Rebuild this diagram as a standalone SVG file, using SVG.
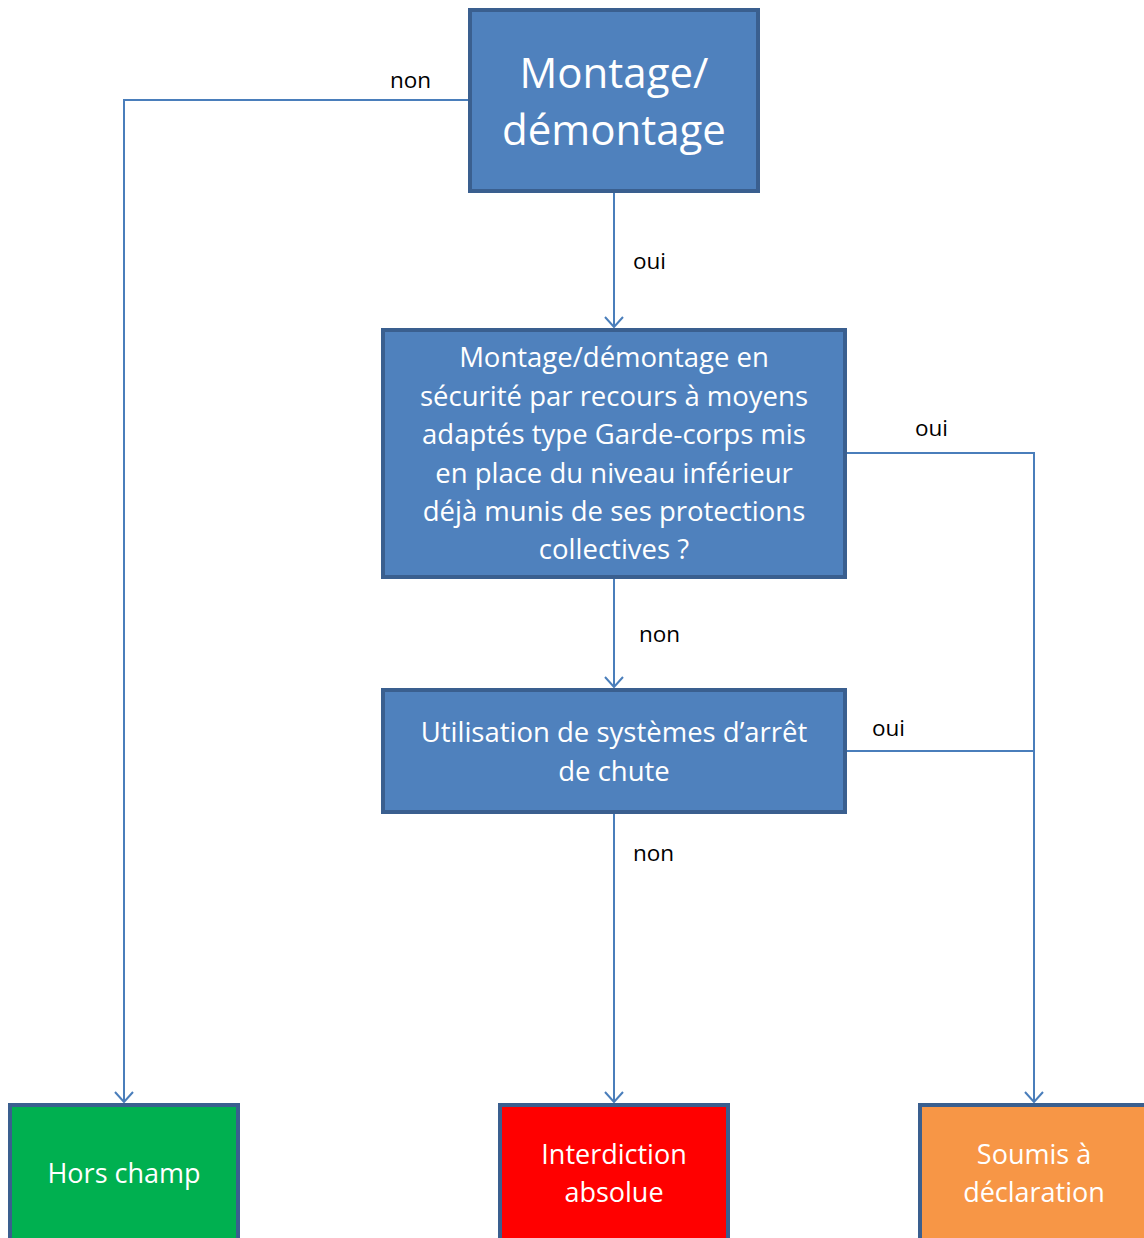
<svg xmlns="http://www.w3.org/2000/svg" width="1144" height="1238" viewBox="0 0 1144 1238">
<style>
.box{stroke:#3a5f8f;stroke-width:4}
.blue{fill:#4f81bd}
.t{font-family:"Open Sans","Liberation Sans",sans-serif;fill:#fff;text-anchor:middle}
.lbl{font-family:"Open Sans","Liberation Sans",sans-serif;fill:#000;font-size:22.5px}
.c{fill:none;stroke:#4a7ebb;stroke-width:2}
</style>
<defs>
<marker id="arr" markerWidth="24" markerHeight="24" viewBox="-12 -12 24 24" refX="0" refY="0" orient="auto" markerUnits="userSpaceOnUse">
<path d="M-10,-9 L0,0 L-10,9" fill="none" stroke="#4a7ebb" stroke-width="2"/>
</marker>
</defs>
<rect width="1144" height="1238" fill="#fff"/>
<g id="connectors">
<path class="c" d="M470,100 H124 V1102" marker-end="url(#arr)"/>
<path class="c" d="M614,191 V327" marker-end="url(#arr)"/>
<path class="c" d="M845,453 H1034 V1102" marker-end="url(#arr)"/>
<path class="c" d="M614,577 V687" marker-end="url(#arr)"/>
<path class="c" d="M845,751 H1034"/>
<path class="c" d="M614,812 V1102" marker-end="url(#arr)"/>
<text class="lbl" x="390" y="88">non</text>
<text class="lbl" x="633" y="269">oui</text>
<text class="lbl" x="915" y="436">oui</text>
<text class="lbl" x="639" y="642">non</text>
<text class="lbl" x="872" y="736">oui</text>
<text class="lbl" x="633" y="861">non</text>
</g>
<g id="n1">
<rect class="box blue" x="470" y="10" width="288" height="181"/>
<text class="t" font-size="42" x="614" y="88">Montage/</text>
<text class="t" font-size="42" x="614" y="145">démontage</text>
</g>
<g id="n2">
<rect class="box blue" x="383" y="330" width="462" height="247"/>
<g class="t" font-size="27.5">
<text x="614" y="367">Montage/démontage en</text>
<text x="614" y="406">sécurité par recours à moyens</text>
<text x="614" y="444">adaptés type Garde-corps mis</text>
<text x="614" y="483">en place du niveau inférieur</text>
<text x="614" y="521">déjà munis de ses protections</text>
<text x="614" y="559">collectives ?</text>
</g>
</g>
<g id="n3">
<rect class="box blue" x="383" y="690" width="462" height="122"/>
<g class="t" font-size="27.5">
<text x="614" y="742">Utilisation de systèmes d’arrêt</text>
<text x="614" y="781">de chute</text>
</g>
</g>
<g id="n4">
<rect class="box" fill="#00b050" x="10" y="1105" width="228" height="150"/>
<text class="t" font-size="27" x="124" y="1183">Hors champ</text>
</g>
<g id="n5">
<rect class="box" fill="#ff0000" x="500" y="1105" width="228" height="150"/>
<text class="t" font-size="27" x="614" y="1164">Interdiction</text>
<text class="t" font-size="27" x="614" y="1202">absolue</text>
</g>
<g id="n6">
<rect class="box" fill="#f79646" x="920" y="1105" width="240" height="150"/>
<text class="t" font-size="27" x="1034" y="1164">Soumis à</text>
<text class="t" font-size="27" x="1034" y="1202">déclaration</text>
</g>
</svg>
